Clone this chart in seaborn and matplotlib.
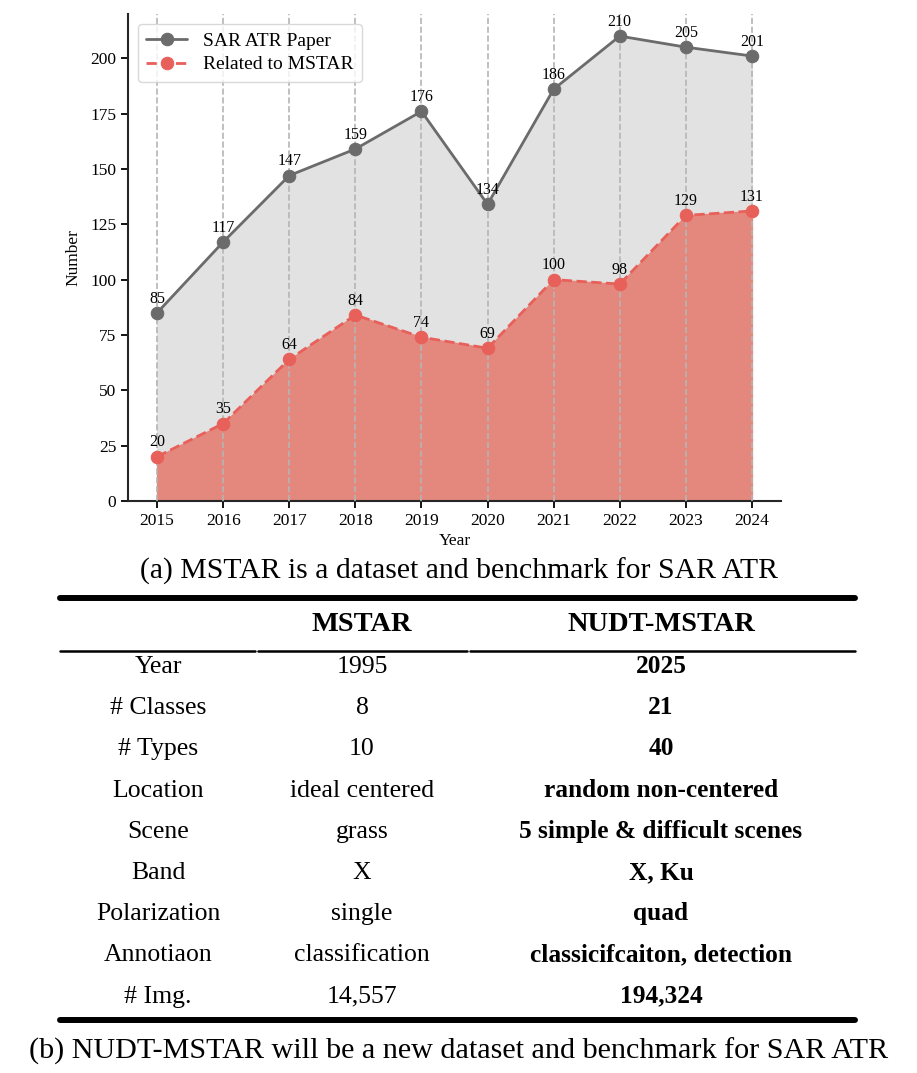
import matplotlib
matplotlib.use("Agg")
import matplotlib.pyplot as plt
import seaborn as sns
from matplotlib.lines import Line2D

# data
years = [2015, 2016, 2017, 2018, 2019, 2020, 2021, 2022, 2023, 2024]
sar_atr_papers = [85, 117, 147, 159, 176, 134, 186, 210, 205, 201]
mstar_related = [20, 35, 64, 84, 74, 69, 100, 98, 129, 131]

table_header = ["", "MSTAR", "NUDT-MSTAR"]
row_names = ["Year", "# Classes", "# Types", "Location", "Scene", "Band",
             "Polarization", "Annotiaon", "# Img."]
mstar_col = ["1995", "8", "10", "ideal centered", "grass", "X", "single",
             "classification", "14,557"]
nudt_col = ["2025", "21", "40", "random non-centered", "5 simple & difficult scenes",
            "X, Ku", "quad", "classicifcaiton, detection", "194,324"]

sns.set_style("ticks")
plt.rcParams["font.family"] = ["Liberation Serif", "DejaVu Serif"]
plt.rcParams["text.color"] = "black"
plt.rcParams["axes.labelcolor"] = "black"
plt.rcParams["xtick.color"] = "black"
plt.rcParams["ytick.color"] = "black"

gray_line = "#6b6b6b"
red_line = "#e8605a"

fig = plt.figure(figsize=(9.17, 10.73), dpi=100)
ax = fig.add_axes([0.1396, 0.5331, 0.7121, 0.4539])

# fills
ax.fill_between(years, 0, sar_atr_papers, color="#e2e2e2", zorder=1)
ax.fill_between(years, 0, mstar_related, color="#e4887e", zorder=2)

# vertical dashed grid
for yr in years:
    ax.axvline(yr, color="#b5b5b5", linestyle="--", linewidth=1.2, zorder=3)

sns.lineplot(x=years, y=sar_atr_papers, ax=ax, color=gray_line, marker="o",
             markersize=9, linewidth=2, markeredgecolor=gray_line,
             label="SAR ATR Paper", zorder=5)
sns.lineplot(x=years, y=mstar_related, ax=ax, color=red_line, marker="o",
             markersize=9, linewidth=2, linestyle="--", markeredgecolor=red_line,
             label="Related to MSTAR", zorder=5)

for x, v in zip(years, sar_atr_papers):
    ax.annotate(str(v), (x, v), textcoords="offset points", xytext=(0, 4.5),
                ha="center", va="bottom", fontsize=11.5, zorder=6)
for x, v in zip(years, mstar_related):
    ax.annotate(str(v), (x, v), textcoords="offset points", xytext=(0, 4.5),
                ha="center", va="bottom", fontsize=11.5, zorder=6)

ax.set_xlim(2014.56, 2024.44)
ax.set_ylim(0, 220)
ax.set_xticks(years)
ax.set_yticks(range(0, 201, 25))
ax.tick_params(labelsize=12.5, width=1.3, length=5)
ax.set_xlabel("Year", fontsize=12.5, labelpad=3)
ax.set_ylabel("Number", fontsize=12.5, labelpad=6)
sns.despine(ax=ax)
for s in ["left", "bottom"]:
    ax.spines[s].set_linewidth(1.5)

leg = ax.legend(loc="upper left", fontsize=14, frameon=True, fancybox=True,
                borderaxespad=0.5, handlelength=2.1, borderpad=0.45,
                labelspacing=0.3)
leg.get_frame().set_edgecolor("#d0d0d0")

fig.text(0.5, 1 - 571 / 1073, "(a) MSTAR is a dataset and benchmark for SAR ATR",
         ha="center", va="center", fontsize=21.4)

# table drawn in figure coords
def fy(py):
    return 1 - py / 1073

def fx(px):
    return px / 917

col_x = [158, 362, 661]
fig.add_artist(Line2D([fx(60), fx(855)], [fy(598), fy(598)], color="black", lw=4.3))
for x0, x1 in [(60, 255), (258, 467), (470, 855)]:
    fig.add_artist(Line2D([fx(x0), fx(x1)], [fy(650.5), fy(650.5)], color="black", lw=1.8))
fig.add_artist(Line2D([fx(60), fx(855)], [fy(1020), fy(1020)], color="black", lw=4.3))

for cx, h in zip(col_x, table_header):
    fig.text(fx(cx), fy(631), h, ha="center", va="baseline", fontsize=20.4, fontweight="bold")

# rows share a common baseline
row_y0, row_step = 673, 41.2
for i, (name, a, b) in enumerate(zip(row_names, mstar_col, nudt_col)):
    y = fy(row_y0 + i * row_step)
    fig.text(fx(col_x[0]), y, name, ha="center", va="baseline", fontsize=18.5)
    fig.text(fx(col_x[1]), y, a, ha="center", va="baseline", fontsize=18.5)
    fig.text(fx(col_x[2]), y, b, ha="center", va="baseline", fontsize=18.3, fontweight="bold")

fig.text(0.5, fy(1051), "(b) NUDT-MSTAR will be a new dataset and benchmark for SAR ATR",
         ha="center", va="center", fontsize=21.7)

fig.savefig("out.png", dpi=100)
